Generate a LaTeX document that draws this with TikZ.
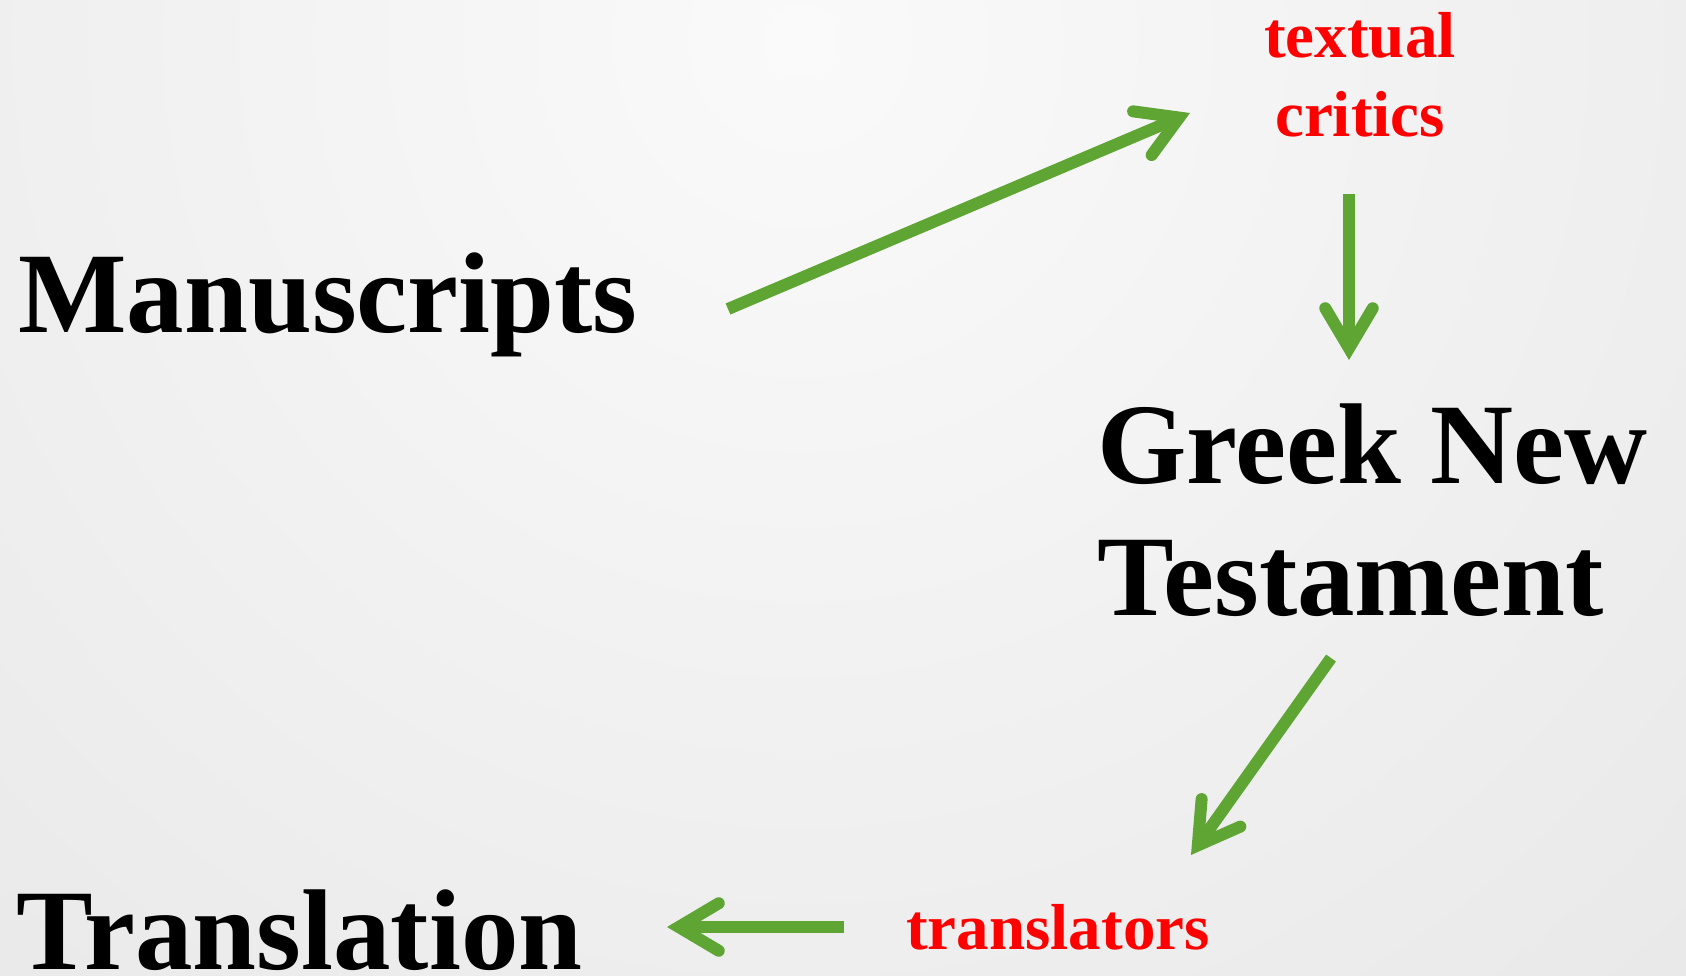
\documentclass[tikz,border=0pt]{standalone}
\usepackage{fontspec}
\setmainfont{Liberation Serif}
\usetikzlibrary{arrows.meta,calc}

\definecolor{arrowgreen}{RGB}{94,165,52}
\definecolor{labelred}{RGB}{255,0,0}
\definecolor{bgin}{RGB}{250,250,250}
\definecolor{bgout}{RGB}{216,214,214}
\pgfdeclareradialshading{slidebg}{\pgfpoint{0bp}{0bp}}{color(0bp)=(bgin); color(50bp)=(bgout)}

\tikzset{
  term/.style={font=\fontsize{65.4}{74.6}\selectfont\bfseries, inner sep=0pt},
  role/.style={font=\fontsize{37}{45}\selectfont\bfseries, text=labelred, inner sep=0pt},
  flow/.style={draw=arrowgreen, line width=0.24cm,
    -{Straight Barb[length=0.8cm,width=0.95cm,line cap=round,line join=miter]}}
}

\begin{document}
\begin{tikzpicture}[x=0.02cm,y=-0.02cm]
  \useasboundingbox (0,0) rectangle (1686,976);
  % soft grey backdrop
  \begin{scope}
    \clip (0,0) rectangle (1686,976);
    \shade[shading=slidebg] (800,40) circle (1350);
  \end{scope}

  \node[term, anchor=base west] (manu) at (18,333) {Manuscripts};
  \node[role, anchor=base, align=center] (crit) at (1360,137) {textual\\critics};
  \node[term, anchor=base west, align=left] (gnt) at (1097,615) {Greek New\\Testament};
  \node[role, anchor=base] (trl) at (1058,949) {translators};
  \node[term, anchor=base west] (tran) at (16,969) {Translation};

  \draw[flow] ($(manu.base west)+(710,-24)$) -- ($(crit.base)+(-170,-24)$);
  \draw[flow] ($(crit.base)+(-11,57)$) -- ($(gnt.base west)+(252,-255)$);
  \draw[flow] ($(gnt.base west)+(234,43)$) -- ($(trl.base)+(133,-94)$);
  \draw[flow] ($(trl.base)+(-214,-22)$) -- ($(tran.base west)+(651,-42)$);
\end{tikzpicture}
\end{document}
